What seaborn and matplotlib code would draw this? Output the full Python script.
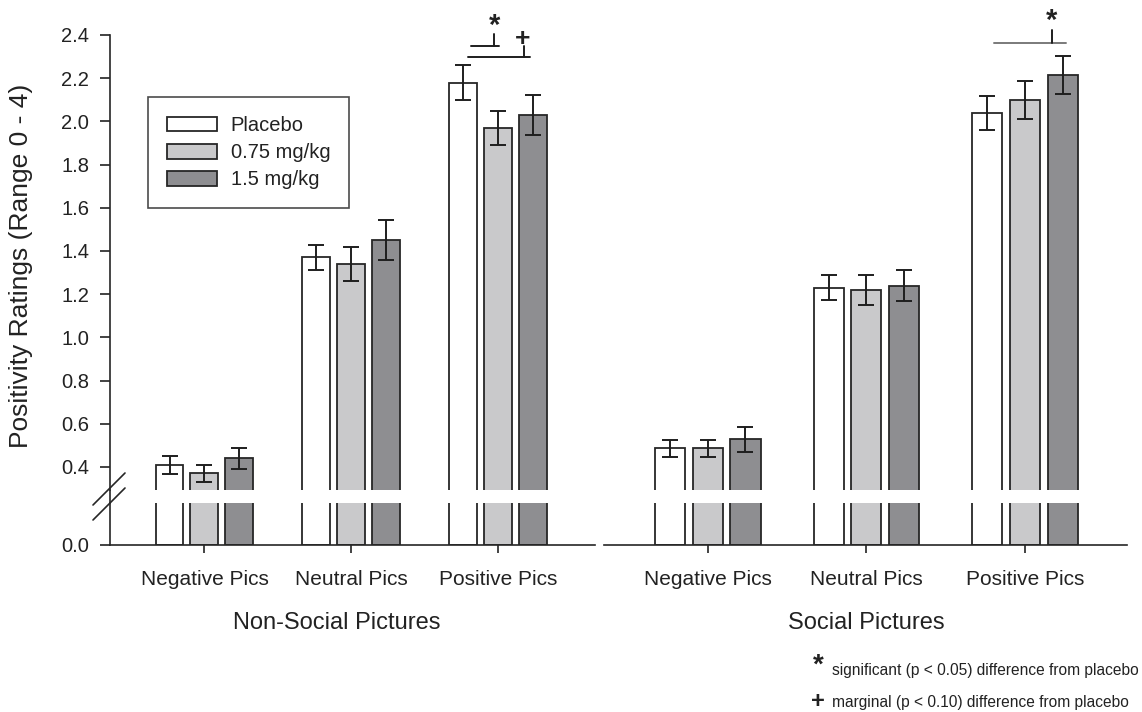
import numpy as np
import pandas as pd
import matplotlib
matplotlib.use("Agg")
import matplotlib.pyplot as plt
from matplotlib.lines import Line2D
import seaborn as sns

# ---------------- data ----------------
categories = ["Negative Pics", "Neutral Pics", "Positive Pics"]
doses = ["Placebo", "0.75 mg/kg", "1.5 mg/kg"]

nonsocial_placebo = [0.41, 1.37, 2.18]
nonsocial_low = [0.37, 1.34, 1.97]
nonsocial_high = [0.44, 1.45, 2.03]
nonsocial_err_placebo = [0.042, 0.058, 0.079]
nonsocial_err_low = [0.040, 0.077, 0.080]
nonsocial_err_high = [0.047, 0.093, 0.092]

social_placebo = [0.487, 1.23, 2.04]
social_low = [0.487, 1.22, 2.10]
social_high = [0.528, 1.24, 2.215]
social_err_placebo = [0.039, 0.059, 0.079]
social_err_low = [0.039, 0.070, 0.088]
social_err_high = [0.058, 0.070, 0.088]

panel_titles = ["Non-Social Pictures", "Social Pictures"]
y_ticks = [0.4, 0.6, 0.8, 1.0, 1.2, 1.4, 1.6, 1.8, 2.0, 2.2, 2.4]
ylabel = "Positivity Ratings (Range 0 - 4)"
note_sig = "significant (p < 0.05) difference from placebo"
note_marg = "marginal (p < 0.10) difference from placebo"


def make_df(vals):
    rows = []
    for dose, series in zip(doses, vals):
        for cat, v in zip(categories, series):
            rows.append({"category": cat, "dose": dose, "value": v})
    return pd.DataFrame(rows)


df_ns = make_df([nonsocial_placebo, nonsocial_low, nonsocial_high])
df_s = make_df([social_placebo, social_low, social_high])
err_ns = [nonsocial_err_placebo, nonsocial_err_low, nonsocial_err_high]
err_s = [social_err_placebo, social_err_low, social_err_high]

# ---------------- style ----------------
sns.set_theme(style="white")
plt.rcParams["font.family"] = ["Liberation Sans", "DejaVu Sans"]
TXT = "#222222"
plt.rcParams["text.color"] = TXT
plt.rcParams["axes.labelcolor"] = TXT
plt.rcParams["xtick.color"] = TXT
plt.rcParams["ytick.color"] = TXT

palette = ["#ffffff", "#c9c9cb", "#8d8e92"]
EDGE = "#262626"

W, H = 1142, 712
fig = plt.figure(figsize=(W / 100, H / 100), dpi=100)


def fx(px):
    return px / W


def fy(py):
    return 1 - py / H


upper_bottom, upper_top = 490, 35
lower_bottom, lower_top = 545, 503
left_x0, left_x1 = 110, 595
right_x0, right_x1 = 604, 1127

ax_ul = fig.add_axes([fx(left_x0), fy(upper_bottom), fx(left_x1 - left_x0), (upper_bottom - upper_top) / H])
ax_ll = fig.add_axes([fx(left_x0), fy(lower_bottom), fx(left_x1 - left_x0), (lower_bottom - lower_top) / H])
ax_ur = fig.add_axes([fx(right_x0), fy(upper_bottom), fx(right_x1 - right_x0), (upper_bottom - upper_top) / H])
ax_lr = fig.add_axes([fx(right_x0), fy(lower_bottom), fx(right_x1 - right_x0), (lower_bottom - lower_top) / H])

px_per_unit = 216.0
upper_ylim = (0.4 - (upper_bottom - 467) / px_per_unit, 2.4)
lower_ylim = (0.0, (lower_bottom - lower_top) / px_per_unit)

for ax, df, errs in [(ax_ul, df_ns, err_ns), (ax_ll, df_ns, None),
                     (ax_ur, df_s, err_s), (ax_lr, df_s, None)]:
    sns.barplot(data=df, x="category", y="value", hue="dose", order=categories,
                hue_order=doses, palette=palette, edgecolor=EDGE, linewidth=1.3,
                errorbar=None, width=0.714, gap=0.2, legend=False, ax=ax)
    if errs is not None:
        for cont, e in zip(ax.containers, errs):
            xs = [b.get_x() + b.get_width() / 2 for b in cont]
            ys = [b.get_height() for b in cont]
            ax.errorbar(xs, ys, yerr=e, fmt="none", ecolor="#1e1e1e",
                        elinewidth=1.4, capsize=6, capthick=1.4, zorder=5)
    ax.set_xlabel("")
    ax.set_ylabel("")

for ax in (ax_ul, ax_ll):
    ax.set_xlim(-0.643, 2.658)
for ax in (ax_ur, ax_lr):
    ax.set_xlim(-0.654, 2.643)
for ax in (ax_ul, ax_ur):
    ax.set_ylim(*upper_ylim)
for ax in (ax_ll, ax_lr):
    ax.set_ylim(*lower_ylim)

for ax in (ax_ul, ax_ll, ax_ur, ax_lr):
    for s in ax.spines.values():
        s.set_visible(False)
        s.set_color(EDGE)
        s.set_linewidth(1.2)
    ax.set_facecolor("none")

# upper-left: left spine + y ticks
ax_ul.spines["left"].set_visible(True)
ax_ul.set_yticks(y_ticks)
ax_ul.set_yticklabels([f"{t:.1f}" for t in y_ticks])
ax_ul.set_xticks([])
ax_ul.tick_params(axis="y", direction="out", length=7, width=1.2, labelsize=14.5, pad=8, left=True)

# lower-left
ax_ll.spines["left"].set_visible(True)
ax_ll.spines["bottom"].set_visible(True)
ax_ll.set_yticks([0.0])
ax_ll.set_yticklabels(["0.0"])
ax_ll.tick_params(axis="y", direction="out", length=7, width=1.2, labelsize=14.5, pad=8, left=True)
ax_ll.tick_params(axis="x", direction="out", length=6, width=1.2, labelsize=15, pad=12, bottom=True)

# upper-right: nothing
ax_ur.set_xticks([])
ax_ur.set_yticks([])

# lower-right
ax_lr.spines["bottom"].set_visible(True)
ax_lr.set_yticks([])
ax_lr.tick_params(axis="x", direction="out", length=6, width=1.2, labelsize=15, pad=12, bottom=True)

# legend
handles = [cont[0] for cont in ax_ul.containers]
leg = ax_ul.legend(handles, doses, loc="upper left",
                   bbox_to_anchor=((148 - left_x0) / (left_x1 - left_x0), (upper_bottom - 97) / (upper_bottom - upper_top)),
                   borderaxespad=0, frameon=True, fancybox=False, fontsize=14.5,
                   handlelength=2.5, handleheight=0.75, handletextpad=0.65,
                   labelspacing=0.4, borderpad=0.95, edgecolor="#1e1e1e")
leg.get_frame().set_linewidth(1.2)

# continuous y spine through the break + break marks
fig.add_artist(Line2D([fx(left_x0)] * 2, [fy(upper_bottom), fy(lower_top)], color=EDGE, lw=1.2))
for dy in (0, 15):
    fig.add_artist(Line2D([fx(93), fx(125)], [fy(505 + dy), fy(473 + dy)], color=EDGE, lw=1.2))

# significance annotations (data coords, unclipped)
kw = dict(color="#1e1e1e", lw=1.4, clip_on=False)
ax_ul.plot([1.811, 2.003], [2.349, 2.349], **kw)
ax_ul.plot([1.971, 1.971], [2.349, 2.405], **kw)
ax_ul.plot([1.793, 2.214], [2.300, 2.300], **kw)
ax_ul.plot([2.176, 2.176], [2.300, 2.350], **kw)
ax_ul.text(1.971, 2.44, "*", ha="center", va="center", fontsize=21, fontweight="bold", clip_on=False)
ax_ul.text(2.165, 2.38, "+", ha="center", va="center", fontsize=19, fontweight="bold", clip_on=False)

kw2 = dict(color="#7a7a7a", lw=1.4, clip_on=False)
ax_ur.plot([1.805, 2.259], [2.364, 2.364], **kw2)
ax_ur.plot([2.168, 2.168], [2.364, 2.423], color="#1e1e1e", lw=1.4, clip_on=False)
ax_ur.text(2.168, 2.465, "*", ha="center", va="center", fontsize=21, fontweight="bold", clip_on=False)

# y label and panel titles
fig.text(fx(21), fy(266), ylabel, rotation=90, ha="center", va="center", fontsize=19)
fig.text(fx(337), fy(623), panel_titles[0], ha="center", va="center", fontsize=17)
fig.text(fx(866), fy(623), panel_titles[1], ha="center", va="center", fontsize=17)

# footnotes
fig.text(fx(818), fy(666), "*", ha="center", va="center", fontsize=20, fontweight="bold")
fig.text(fx(832), fy(670), note_sig, ha="left", va="center", fontsize=11.2)
fig.text(fx(818), fy(702), "+", ha="center", va="center", fontsize=17, fontweight="bold")
fig.text(fx(832), fy(703), note_marg, ha="left", va="center", fontsize=11.2)

fig.savefig("out.png", dpi=100)
